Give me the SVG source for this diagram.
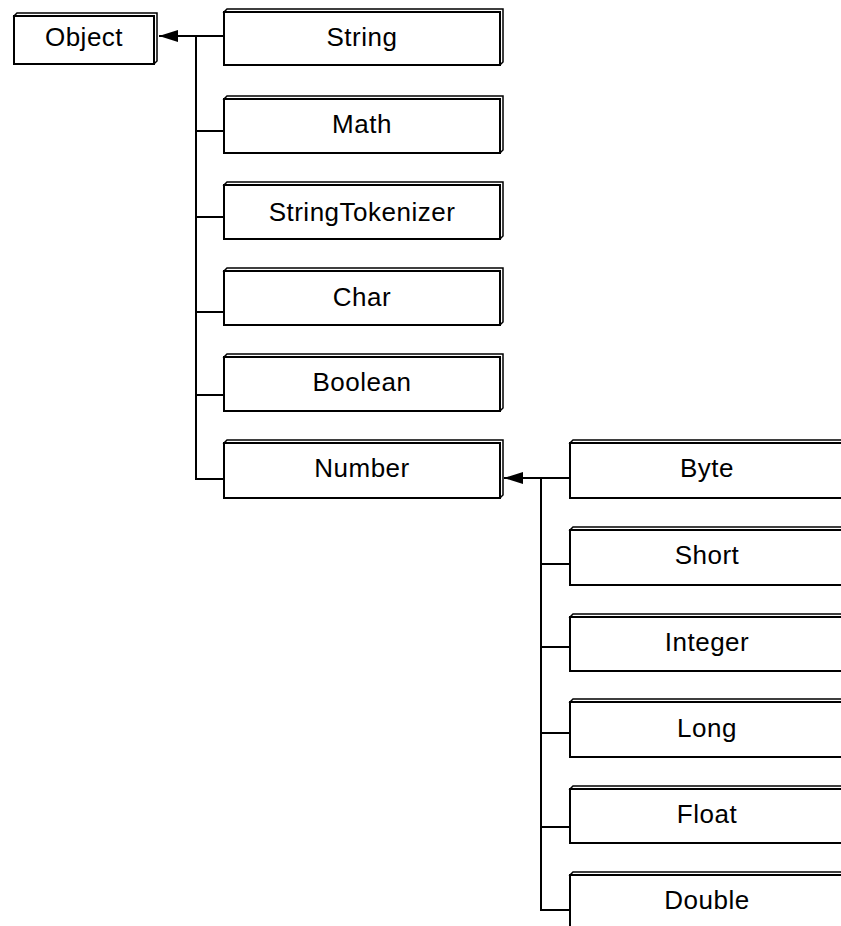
<svg xmlns="http://www.w3.org/2000/svg" width="841" height="926" viewBox="0 0 841 926">
<style>
.bk{fill:#fff;stroke:#000;stroke-width:1.5;stroke-linejoin:miter}
.fr{fill:#fff;stroke:#000;stroke-width:2}
.t{font-family:"Liberation Sans",Arial,sans-serif;font-size:26px;letter-spacing:0.5px;fill:#000;text-anchor:middle}
.c{fill:none;stroke:#000;stroke-width:2}
</style>
<defs>
<marker id="ah" markerWidth="20" markerHeight="12" refX="19" refY="6" orient="auto" markerUnits="userSpaceOnUse">
<path d="M0,0 L19,6 L0,12 Z" fill="#000"/>
</marker>
</defs>
<rect width="841" height="926" fill="#fff"/>
<g id="connectors">
<line class="c" x1="224" y1="36" x2="159" y2="36" marker-end="url(#ah)"/>
<polyline class="c" points="196,36 196,479 224,479"/>
<line class="c" x1="196" y1="131" x2="224" y2="131"/>
<line class="c" x1="196" y1="217" x2="224" y2="217"/>
<line class="c" x1="196" y1="312" x2="224" y2="312"/>
<line class="c" x1="196" y1="395" x2="224" y2="395"/>
<line class="c" x1="570" y1="478" x2="504" y2="478" marker-end="url(#ah)"/>
<polyline class="c" points="541,478 541,910 570,910"/>
<line class="c" x1="541" y1="564" x2="570" y2="564"/>
<line class="c" x1="541" y1="647" x2="570" y2="647"/>
<line class="c" x1="541" y1="733" x2="570" y2="733"/>
<line class="c" x1="541" y1="827" x2="570" y2="827"/>
</g>
<g id="Object">
<path class="bk" d="M14,16 L17,13 L157,13 L157,61 L154,64 Z"/>
<rect class="fr" x="14" y="16" width="140" height="48"/>
<text class="t" x="84" y="46">Object</text>
</g>
<g id="String">
<path class="bk" d="M224,12 L227,9 L503,9 L503,62 L500,65 Z"/>
<rect class="fr" x="224" y="12" width="276" height="53"/>
<text class="t" x="362" y="46">String</text>
</g>
<g id="Math">
<path class="bk" d="M224,99 L227,96 L503,96 L503,150 L500,153 Z"/>
<rect class="fr" x="224" y="99" width="276" height="54"/>
<text class="t" x="362" y="133">Math</text>
</g>
<g id="StringTokenizer">
<path class="bk" d="M224,185 L227,182 L503,182 L503,236 L500,239 Z"/>
<rect class="fr" x="224" y="185" width="276" height="54"/>
<text class="t" x="362" y="221">StringTokenizer</text>
</g>
<g id="Char">
<path class="bk" d="M224,271 L227,268 L503,268 L503,322 L500,325 Z"/>
<rect class="fr" x="224" y="271" width="276" height="54"/>
<text class="t" x="362" y="306">Char</text>
</g>
<g id="Boolean">
<path class="bk" d="M224,357 L227,354 L503,354 L503,408 L500,411 Z"/>
<rect class="fr" x="224" y="357" width="276" height="54"/>
<text class="t" x="362" y="391">Boolean</text>
</g>
<g id="Number">
<path class="bk" d="M224,443 L227,440 L503,440 L503,495 L500,498 Z"/>
<rect class="fr" x="224" y="443" width="276" height="55"/>
<text class="t" x="362" y="477">Number</text>
</g>
<g id="Byte">
<path class="bk" d="M570,443 L573,440 L849,440 L849,495 L846,498 Z"/>
<rect class="fr" x="570" y="443" width="276" height="55"/>
<text class="t" x="707" y="477">Byte</text>
</g>
<g id="Short">
<path class="bk" d="M570,530 L573,527 L849,527 L849,582 L846,585 Z"/>
<rect class="fr" x="570" y="530" width="276" height="55"/>
<text class="t" x="707" y="564">Short</text>
</g>
<g id="Integer">
<path class="bk" d="M570,617 L573,614 L849,614 L849,668 L846,671 Z"/>
<rect class="fr" x="570" y="617" width="276" height="54"/>
<text class="t" x="707" y="651">Integer</text>
</g>
<g id="Long">
<path class="bk" d="M570,702 L573,699 L849,699 L849,754 L846,757 Z"/>
<rect class="fr" x="570" y="702" width="276" height="55"/>
<text class="t" x="707" y="737">Long</text>
</g>
<g id="Float">
<path class="bk" d="M570,789 L573,786 L849,786 L849,840 L846,843 Z"/>
<rect class="fr" x="570" y="789" width="276" height="54"/>
<text class="t" x="707" y="823">Float</text>
</g>
<g id="Double">
<path class="bk" d="M570,875 L573,872 L849,872 L849,927 L846,930 Z"/>
<rect class="fr" x="570" y="875" width="276" height="55"/>
<text class="t" x="707" y="909">Double</text>
</g>
</svg>
